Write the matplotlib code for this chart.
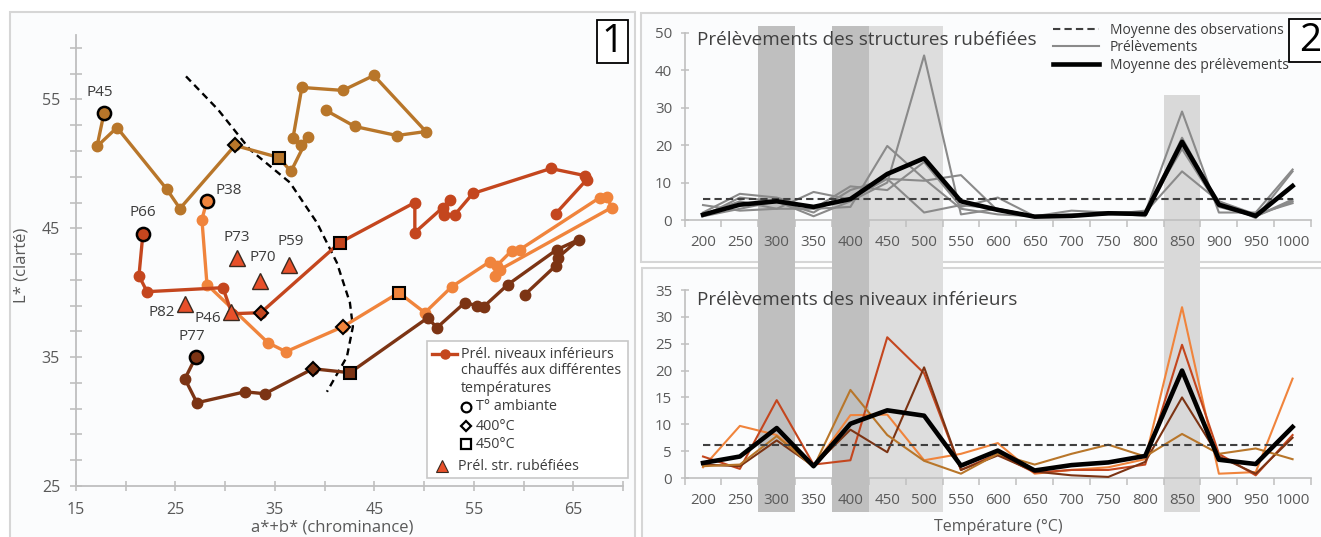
import numpy as np
import matplotlib
matplotlib.use('Agg')
import matplotlib.pyplot as plt
from matplotlib.patches import Rectangle
from matplotlib.lines import Line2D
from matplotlib.transforms import blended_transform_factory

W, H = 1321, 537
plt.rcParams['font.family'] = ['Open Sans', 'DejaVu Sans']

# ---------------- Panel 1 data : a*+b* (chrominance) vs L* (clarte) ----------------
# order: T ambiante, 200, 250, 300, 350, 400, 450, 500 ... 1000 °C
p45_x = [17.81, 17.11, 19.12, 24.15, 25.45, 30.98, 35.40, 36.61, 38.32, 37.61, 36.81, 37.71, 41.83, 44.95, 50.18, 47.26, 43.04, 40.13]
p45_y = [53.91, 51.35, 52.82, 48.01, 46.53, 51.43, 50.49, 49.41, 52.05, 51.43, 51.97, 55.93, 55.70, 56.86, 52.51, 52.20, 52.90, 54.15]
p38_x = [28.17, 27.66, 28.17, 34.30, 36.11, 41.83, 47.46, 50.08, 52.79, 56.61, 57.31, 58.82, 59.62, 67.66, 68.37, 68.87, 57.61, 57.11]
p38_y = [47.15, 45.68, 40.63, 36.12, 35.42, 37.36, 40.00, 38.45, 40.47, 42.41, 42.10, 43.27, 43.34, 47.38, 47.46, 46.61, 41.79, 41.32]
p66_x = [21.73, 21.33, 22.14, 29.77, 30.68, 33.59, 41.53, 49.07, 49.07, 51.88, 52.59, 51.98, 53.09, 54.90, 62.74, 66.16, 66.36, 63.24]
p66_y = [44.59, 41.32, 40.08, 40.39, 38.37, 38.45, 43.89, 47.00, 44.67, 46.61, 47.23, 46.06, 46.06, 47.70, 49.64, 49.09, 48.78, 46.14]
p77_x = [27.06, 25.95, 27.16, 31.98, 33.99, 38.82, 42.54, 50.38, 51.28, 54.10, 55.30, 56.00, 58.42, 63.34, 65.55, 63.44, 63.24, 60.13]
p77_y = [35.03, 33.32, 31.46, 32.31, 32.16, 34.10, 33.79, 38.06, 37.28, 39.23, 39.00, 38.92, 40.63, 43.34, 44.12, 42.72, 42.10, 39.85]
curve_names = ['P45', 'P38', 'P66', 'P77']

tri_names = ['P73', 'P70', 'P59', 'P82', 'P46']
tri_x = [31.18, 33.49, 36.41, 25.95, 30.58]
tri_y = [42.72, 40.94, 42.18, 39.15, 38.53]

limit_x = [26.06, 29.27, 32.49, 36.51, 39.22, 41.23, 42.54, 42.84, 42.24, 40.23]
limit_y = [56.79, 54.22, 51.11, 48.55, 45.44, 42.33, 39.23, 37.36, 35.03, 32.31]

# ---------------- Panel 2 data ----------------
temps = ['200', '250', '300', '350', '400', '450', '500', '550', '600', '650', '700',
         '750', '800', '850', '900', '950', '1000']
temp_values = [200, 250, 300, 350, 400, 450, 500, 550, 600, 650, 700, 750, 800, 850, 900, 950, 1000]

rub_A = [1.0, 3.0, 5.0, 1.0, 5.0, 10.0, 44.0, 1.5, 3.0, 1.0, 1.0, 2.0, 1.5, 22.0, 4.0, 1.0, 5.0]
rub_B = [4.0, 2.5, 3.0, 3.0, 3.5, 19.8, 11.0, 3.0, 1.5, 1.0, 2.5, 2.0, 2.0, 29.0, 2.0, 2.0, 13.5]
rub_C = [2.0, 7.0, 6.0, 3.0, 9.0, 8.0, 15.5, 3.5, 6.0, 1.0, 1.0, 2.0, 2.0, 13.0, 5.0, 1.5, 4.5]
rub_D = [1.5, 5.0, 3.0, 7.5, 5.5, 11.0, 10.5, 12.0, 2.5, 1.0, 1.5, 2.0, 1.0, 20.0, 5.0, 0.5, 13.0]
rub_E = [1.0, 6.0, 5.0, 2.0, 8.0, 11.0, 2.0, 4.0, 3.0, 1.0, 1.0, 1.5, 2.5, 19.0, 3.5, 1.0, 5.5]
rub_mean = [1.4, 4.1, 5.0, 3.5, 5.6, 12.3, 16.5, 5.0, 2.7, 0.9, 1.1, 1.8, 1.6, 20.9, 4.1, 1.1, 9.1]
rub_obs = 5.6

inf_orange = [2.0, 9.7, 8.0, 2.2, 11.7, 11.8, 3.3, 4.5, 6.5, 0.8, 1.5, 2.0, 3.5, 31.8, 0.8, 1.1, 18.5]
inf_red = [4.0, 1.7, 14.5, 2.5, 3.3, 26.2, 19.5, 1.5, 4.5, 1.0, 1.5, 1.5, 2.5, 24.8, 4.5, 0.5, 8.0]
inf_brown = [2.5, 2.2, 7.0, 2.2, 9.0, 4.8, 20.6, 1.5, 4.2, 1.2, 0.5, 0.2, 3.0, 15.0, 4.0, 0.8, 7.5]
inf_gold = [2.2, 2.5, 7.8, 2.0, 16.4, 8.0, 3.2, 0.8, 4.5, 2.5, 4.5, 6.2, 4.0, 8.2, 4.5, 5.5, 3.5]
inf_mean = [2.8, 4.0, 9.3, 2.2, 10.1, 12.6, 11.6, 2.3, 5.1, 1.4, 2.4, 2.9, 4.1, 20.0, 3.4, 2.6, 9.5]
inf_obs = 6.2

band_lo = [275, 375, 425, 825]
band_hi = [325, 425, 525, 875]
band_top_px = [26, 26, 26, 95]
band_col = ['#bfbfbf', '#bfbfbf', '#dddddd', '#d9d9d9']

# ---------------- colours ----------------
c_gold = '#b8762a'
c_orange = '#f0843c'
c_red = '#c4461e'
c_brown = '#7c3414'
c_tri = '#e8502a'
tick_col = '#595959'
axis_col = '#bfbfbf'

fig = plt.figure(figsize=(W / 100, H / 100), dpi=100)
fig.patch.set_facecolor('white')


def fx(px):
    return px / W


def fy(py):
    return 1 - py / H


def frame(x0, y0, x1, y1, fc='#fbfcfd', ec='#d6d6d6', lw=1.5, z=-5):
    r = Rectangle((fx(x0), fy(y1)), fx(x1) - fx(x0), fy(y0) - fy(y1),
                  transform=fig.transFigure, fc=fc, ec=ec, lw=lw, zorder=z)
    fig.add_artist(r)


frame(10, 12, 635, 560)
frame(641, 13, 1340, 262)
frame(642, 268, 1340, 560)

# ================= Panel 1 =================
ax1 = fig.add_axes([fx(76), fy(486), fx(623) - fx(76), fy(35) - fy(486)])
ax1.set_facecolor('none')
ax1.set_xlim(15, 70)
ax1.set_ylim(25, 60)
for s in ['top', 'right']:
    ax1.spines[s].set_visible(False)
for s in ['left', 'bottom']:
    ax1.spines[s].set_color(axis_col)
    ax1.spines[s].set_linewidth(1.3)
ax1.set_xticks([15, 25, 35, 45, 55, 65])
ax1.set_xticks(np.arange(20, 71, 10), minor=True)
ax1.set_yticks([25, 35, 45, 55])
ax1.set_yticks(np.arange(27, 60, 2), minor=True)
ax1.tick_params(axis='both', which='both', direction='inout', color=axis_col, width=1.2,
                labelcolor=tick_col, labelsize=11.5)
ax1.tick_params(axis='x', which='both', length=7, pad=8)
ax1.tick_params(axis='y', which='both', length=9, pad=7)

ax1.plot(limit_x, limit_y, color='black', lw=1.7, ls=(0, (3, 2)), zorder=2)

series = [(p45_x, p45_y, c_gold), (p38_x, p38_y, c_orange), (p66_x, p66_y, c_red), (p77_x, p77_y, c_brown)]
for xs, ys, c in series:
    ax1.plot(xs, ys, color=c, lw=2.4, marker='o', ms=7.5, mec=c, zorder=3)
    ax1.plot(xs[0], ys[0], marker='o', ms=9.5, mfc=c, mec='black', mew=1.8, ls='none', zorder=5)
    ax1.plot(xs[5], ys[5], marker='D', ms=7.5, mfc=c, mec='black', mew=1.5, ls='none', zorder=5)
    ax1.plot(xs[6], ys[6], marker='s', ms=8, mfc=c, mec='black', mew=1.5, ls='none', zorder=5)

ax1.plot(tri_x, tri_y, marker='^', ms=11, mfc=c_tri, mec='#3a2a20', mew=1.0, ls='none', zorder=5)

lab_kw = dict(fontsize=11, color='#3c3c3c', zorder=6, textcoords='offset points')
label_offsets = {'P45': (-3, 10, 'center', 'bottom'), 'P38': (6, 2, 'left', 'bottom'),
                 'P66': (0, 10, 'center', 'bottom'), 'P77': (-3, 9, 'center', 'bottom')}
for name, (xs, ys, c) in zip(curve_names, series):
    dx, dy, ha, va = label_offsets[name]
    ax1.annotate(name, (xs[0], ys[0]), xytext=(dx, dy), ha=ha, va=va, **lab_kw)
tri_offsets = {'P73': (0, 9, 'center', 'bottom'), 'P70': (2, 11, 'center', 'bottom'),
               'P59': (1, 11, 'center', 'bottom'), 'P82': (-7, -6, 'right', 'center'),
               'P46': (-7, -5, 'right', 'center')}
for name, x, y in zip(tri_names, tri_x, tri_y):
    dx, dy, ha, va = tri_offsets[name]
    ax1.annotate(name, (x, y), xytext=(dx, dy), ha=ha, va=va, **lab_kw)

fig.text(fx(332), fy(528), 'a*+b* (chrominance)', ha='center', va='center', fontsize=12, color=tick_col)
fig.text(fx(22), fy(265), 'L* (clarté)', ha='center', va='center', rotation=90, fontsize=12, color=tick_col)

# legend panel 1 (manual)
frame(427, 341, 628, 478, fc='white', ec='#c8c8c8', lw=1.2, z=8)


def fig_marker(px, py, **kw):
    fig.add_artist(Line2D([fx(px)], [fy(py)], transform=fig.transFigure, zorder=9, **kw))


fig.add_artist(Line2D([fx(432), fx(457)], [fy(354), fy(354)], transform=fig.transFigure,
                      color=c_red, lw=2.4, zorder=9))
fig_marker(444.5, 354, marker='o', ms=6.5, color=c_red)
leg_fs = 10.3
fig.text(fx(461), fy(354), 'Prél. niveaux inférieurs', va='center', ha='left', fontsize=leg_fs, color='#3c3c3c', zorder=9)
fig.text(fx(461), fy(371), 'chauffés aux différentes', va='center', ha='left', fontsize=leg_fs, color='#3c3c3c', zorder=9)
fig.text(fx(461), fy(388), 'températures', va='center', ha='left', fontsize=leg_fs, color='#3c3c3c', zorder=9)
fig_marker(466, 407, marker='o', ms=7, mfc='white', mec='black', mew=1.6)
fig.text(fx(476), fy(407), 'T° ambiante', va='center', ha='left', fontsize=leg_fs, color='#3c3c3c', zorder=9)
fig_marker(466, 426, marker='D', ms=5.5, mfc='white', mec='black', mew=1.6)
fig.text(fx(476), fy(426), '400°C', va='center', ha='left', fontsize=leg_fs, color='#3c3c3c', zorder=9)
fig_marker(466, 444, marker='s', ms=7, mfc='white', mec='black', mew=1.6)
fig.text(fx(476), fy(444), '450°C', va='center', ha='left', fontsize=leg_fs, color='#3c3c3c', zorder=9)
fig_marker(442, 466, marker='^', ms=8.5, mfc=c_tri, mec='#3a2a20', mew=0.8)
fig.text(fx(458), fy(466), 'Prél. str. rubéfiées', va='center', ha='left', fontsize=leg_fs, color='#3c3c3c', zorder=9)

# panel number 1
frame(597, 20, 628, 63, fc='white', ec='black', lw=1.3, z=8)
fig.text(fx(612.5), fy(42), '1', ha='center', va='center', fontsize=28, color='black', zorder=9)

# ================= Panel 2 =================
x_idx = np.arange(len(temps))
ax2 = fig.add_axes([fx(684.6), fy(220), (1311 - 684.6) / W, (220 - 33) / H])
ax3 = fig.add_axes([fx(684.6), fy(478), (1311 - 684.6) / W, (478 - 290) / H])
for ax, top in [(ax2, 50), (ax3, 35)]:
    ax.set_facecolor('none')
    ax.set_xlim(-0.5, len(temps) - 0.5)
    ax.set_ylim(0, top)
    for s in ['top', 'right']:
        ax.spines[s].set_visible(False)
    for s in ['left', 'bottom']:
        ax.spines[s].set_color(axis_col)
        ax.spines[s].set_linewidth(1.2)
    ax.set_xticks(x_idx)
    ax.set_xticklabels(temps)
    ax.set_xticks(np.arange(-0.5, len(temps), 1.0), minor=True)
    ax.tick_params(axis='x', which='major', length=0, pad=11, labelsize=10.8, labelcolor=tick_col)
    ax.tick_params(axis='x', which='minor', length=5, direction='out', color=axis_col, width=1.1)
    ax.tick_params(axis='y', which='major', length=6, direction='inout', color=axis_col, width=1.1,
                   pad=6, labelsize=10.8, labelcolor=tick_col)

ax2.set_yticks(np.arange(0, 51, 10))
ax3.set_yticks(np.arange(0, 36, 5))

# shaded temperature bands spanning both charts
band_tr = blended_transform_factory(ax2.transData, fig.transFigure)
for lo, hi, top_px, col in zip(band_lo, band_hi, band_top_px, band_col):
    i0 = (lo - temp_values[0]) / (temp_values[1] - temp_values[0])
    i1 = (hi - temp_values[0]) / (temp_values[1] - temp_values[0])
    fig.add_artist(Rectangle((i0, fy(512)), i1 - i0, fy(top_px) - fy(512), transform=band_tr,
                             fc=col, ec='none', zorder=-2))

gray = '#8a8a8a'
for ser in [rub_A, rub_B, rub_C, rub_D, rub_E]:
    ax2.plot(x_idx, ser, color=gray, lw=1.5, zorder=3)
ax2.plot(x_idx, [rub_obs] * len(temps), color='#404040', lw=1.5, ls=(0, (3.5, 2)), zorder=4)
ax2.plot(x_idx, rub_mean, color='black', lw=3.3, zorder=5)

inf_cols = [c_orange, c_red, c_brown, c_gold]
for ser, col in zip([inf_orange, inf_red, inf_brown, inf_gold], inf_cols):
    ax3.plot(x_idx, ser, color=col, lw=1.5, zorder=3)
ax3.plot(x_idx, [inf_obs] * len(temps), color='#404040', lw=1.5, ls=(0, (3.5, 2)), zorder=4)
ax3.plot(x_idx, inf_mean, color='black', lw=3.3, zorder=5)

ax2.text(0.0198, 0.963, 'Prélèvements des structures rubéfiées', transform=ax2.transAxes,
         ha='left', va='center', fontsize=13.6, color='#404040')
ax3.text(0.0198, 0.947, 'Prélèvements des niveaux inférieurs', transform=ax3.transAxes,
         ha='left', va='center', fontsize=13.6, color='#404040')

handles = [Line2D([], [], color='#404040', lw=1.5, ls=(0, (3.5, 2))),
           Line2D([], [], color=gray, lw=1.5),
           Line2D([], [], color='black', lw=3.3)]
labels = ['Moyenne des observations', 'Prélèvements', 'Moyenne des prélèvements']
leg = ax2.legend(handles, labels, loc='upper left', bbox_to_anchor=(fx(1043), fy(13)),
                 bbox_transform=fig.transFigure, frameon=False, fontsize=10,
                 handlelength=3.3, handletextpad=0.8, labelspacing=0.18, borderpad=0.2)
for t in leg.get_texts():
    t.set_color('#3c3c3c')

frame(1289, 19, 1340, 62, fc='white', ec='black', lw=1.3, z=8)
fig.text(fx(1310), fy(41), '2', ha='center', va='center', fontsize=28, color='black', zorder=9)

fig.text(fx(998), fy(527), 'Température (°C)', ha='center', va='center', fontsize=11.5, color=tick_col)

fig.savefig('out.png', dpi=100, facecolor='white')
